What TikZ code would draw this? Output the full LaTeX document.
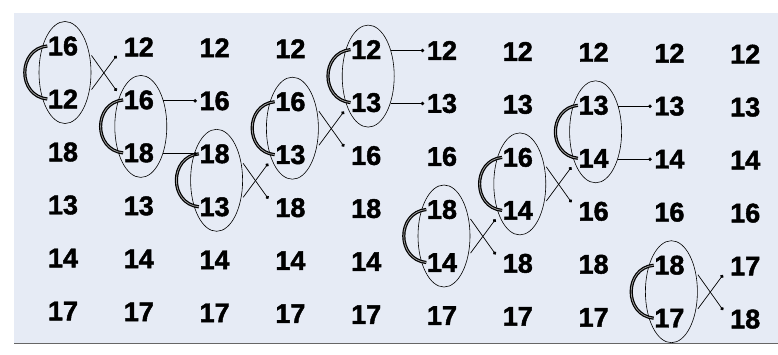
\documentclass[tikz,border=0pt]{standalone}
\usepackage{fontspec}
\setmainfont{Liberation Sans}
\newfontfamily\numfont{Liberation Sans Bold}[FakeBold=1.6]
\usetikzlibrary{shapes.geometric,arrows.meta,calc}
\definecolor{paper}{RGB}{230,235,245}
\newcommand\numcol[2]{%
  \foreach \v [count=\r] in {#2} {%
    \node[num] (n-#1-\r) at ({63+(#1-1)*75.8},{46+(#1-1)*0.9+(\r-1)*53}) {\v};}}
\newcommand\pair[3]{%
  \node[oval] (e-#1) at ($(n-#1-#2)!0.5!(n-#1-#3)+(2,0)$) {};
  \draw[loopline] (n-#1-#2.west) .. controls +(-30,3) and +(-30,-3) .. (n-#1-#3.west);}
\begin{document}
\begin{tikzpicture}[x=1pt,y=-1pt,
  num/.style={font=\fontsize{27}{30}\numfont, inner sep=0.5pt},
  oval/.style={draw, ellipse, line width=0.6pt, minimum width=52pt, minimum height=102pt, inner sep=0pt},
  loopline/.style={line width=1.2pt, double=black!40, double distance=0.8pt},
  arr/.style={line width=0.7pt, -{Circle[length=3.5pt]}, shorten >=2pt},
  xarr/.style={line width=0.7pt, -{Circle[length=3.5pt]}, shorten >=11pt, shorten <=4pt}]
\useasboundingbox (0,0) rectangle (778,354);
\fill[paper] (14,13) rectangle (778,343);
\draw[black!60, line width=1pt] (14,343) -- (778,343);
\numcol{1}{16,12,18,13,14,17}
\numcol{2}{12,16,18,13,14,17}
\numcol{3}{12,16,18,13,14,17}
\numcol{4}{12,16,13,18,14,17}
\numcol{5}{12,13,16,18,14,17}
\numcol{6}{12,13,16,18,14,17}
\numcol{7}{12,13,16,14,18,17}
\numcol{8}{12,13,14,16,18,17}
\numcol{9}{12,13,14,16,18,17}
\numcol{10}{12,13,14,16,17,18}
\pair{1}{1}{2}
\pair{2}{2}{3}
\pair{3}{3}{4}
\pair{4}{2}{3}
\pair{5}{1}{2}
\pair{6}{4}{5}
\pair{7}{3}{4}
\pair{8}{2}{3}
\pair{9}{5}{6}
% swaps
\draw[xarr] (e-1.40) -- (n-2-2.west);  \draw[xarr] (e-1.-40) -- (n-2-1.west);
\draw[xarr] (e-3.40) -- (n-4-4.west);  \draw[xarr] (e-3.-40) -- (n-4-3.west);
\draw[xarr] (e-4.40) -- (n-5-3.west);  \draw[xarr] (e-4.-40) -- (n-5-2.west);
\draw[xarr] (e-6.40) -- (n-7-5.west);  \draw[xarr] (e-6.-40) -- (n-7-4.west);
\draw[xarr] (e-7.40) -- (n-8-4.west);  \draw[xarr] (e-7.-40) -- (n-8-3.west);
\draw[xarr] (e-9.40) -- (n-10-6.west); \draw[xarr] (e-9.-40) -- (n-10-5.west);
% keeps
\draw[arr] (e-2.50 |- n-3-2.west) -- (n-3-2.west);  \draw[arr] (e-2.-50 |- n-3-3.west) -- (n-3-3.west);
\draw[arr] (e-5.50 |- n-6-1.west) -- (n-6-1.west);  \draw[arr] (e-5.-50 |- n-6-2.west) -- (n-6-2.west);
\draw[arr] (e-8.50 |- n-9-2.west) -- (n-9-2.west);  \draw[arr] (e-8.-50 |- n-9-3.west) -- (n-9-3.west);
\end{tikzpicture}
\end{document}
